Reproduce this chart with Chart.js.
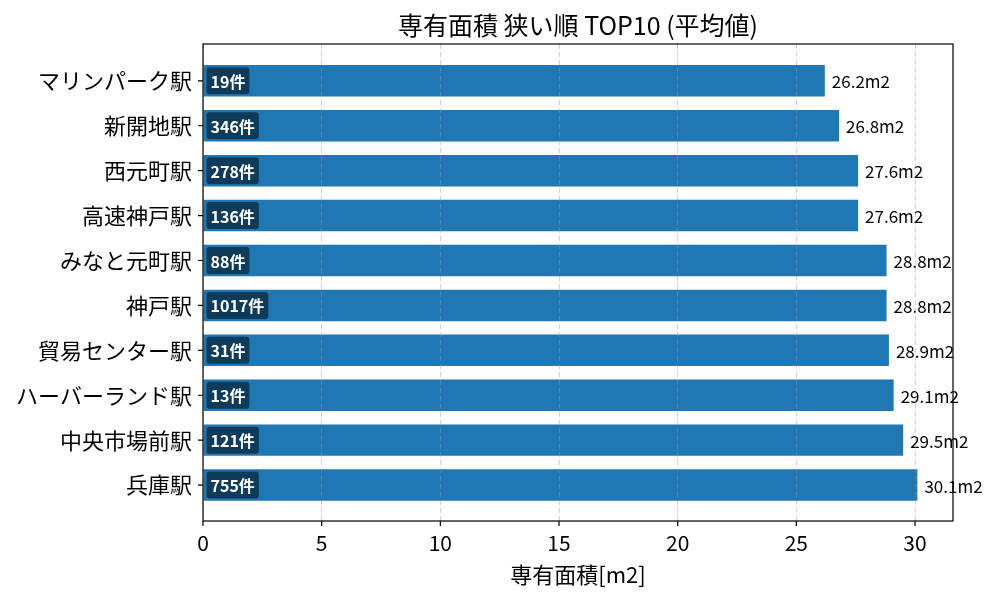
<!DOCTYPE html>
<html>
<head>
<meta charset="utf-8">
<script src="https://cdn.jsdelivr.net/npm/chart.js@4.4.0/dist/chart.umd.min.js"></script>
<style>
  html, body { margin: 0; padding: 0; background: #fff; }
  #wrap { width: 1000px; height: 600px; }
</style>
</head>
<body>
<div id="wrap"><canvas id="chart" width="1000" height="600"></canvas></div>
<script>
// stations sorted by average floor area (smallest first)
const stations = ['マリンパーク駅', '新開地駅', '西元町駅', '高速神戸駅', 'みなと元町駅',
  '神戸駅', '貿易センター駅', 'ハーバーランド駅', '中央市場前駅', '兵庫駅'];
const avgArea = [26.2, 26.8, 27.6, 27.6, 28.8, 28.8, 28.9, 29.1, 29.5, 30.1];
const counts = [19, 346, 278, 136, 88, 1017, 31, 13, 121, 755];
const xTicks = [0, 5, 10, 15, 20, 25, 30];

const FONT = '"Noto Sans CJK JP", "Noto Sans", sans-serif';

// title, frame, tick marks and bar labels
const decor = {
  id: 'decor',
  afterDatasetsDraw(chart) {
    const ctx = chart.ctx;
    const meta = chart.getDatasetMeta(0);
    ctx.save();
    meta.data.forEach((bar, i) => {
      // value label right of bar
      ctx.font = '17px ' + FONT;
      ctx.fillStyle = '#000';
      ctx.textAlign = 'left';
      ctx.textBaseline = 'middle';
      ctx.fillText(avgArea[i].toFixed(1) + 'm2', bar.x + 7, bar.y + 1);

      // count badge inside bar
      const txt = counts[i] + '件';
      ctx.font = 'bold 16px ' + FONT;
      const w = ctx.measureText(txt).width + 8;
      const h = 27;
      const bx = bar.base + 3;
      const by = bar.y - h / 2;
      ctx.fillStyle = 'rgba(0,0,0,0.5)';
      ctx.beginPath();
      ctx.roundRect(bx, by, w, h, 3);
      ctx.fill();
      ctx.fillStyle = '#fff';
      ctx.fillText(txt, bx + 4, bar.y + 1);
    });
    ctx.restore();
  },
  afterDraw(chart) {
    const ctx = chart.ctx;
    const area = chart.chartArea;
    const xs = chart.scales.x;
    const ys = chart.scales.y;
    ctx.save();
    ctx.strokeStyle = '#000';
    ctx.lineWidth = 1.2;
    ctx.strokeRect(area.left, area.top, area.right - area.left, area.bottom - area.top);
    ctx.beginPath();
    xTicks.forEach(v => {
      const px = xs.getPixelForValue(v);
      ctx.moveTo(px, area.bottom);
      ctx.lineTo(px, area.bottom + 5);
    });
    stations.forEach((s, i) => {
      const py = ys.getPixelForValue(i);
      ctx.moveTo(area.left, py);
      ctx.lineTo(area.left - 5, py);
    });
    ctx.stroke();

    ctx.font = '25px ' + FONT;
    ctx.fillStyle = '#000';
    ctx.textAlign = 'center';
    ctx.textBaseline = 'middle';
    ctx.fillText('専有面積 狭い順 TOP10 (平均値)', (area.left + area.right) / 2, 25);
    ctx.restore();
  }
};

const config = {
  type: 'bar',
  data: {
    datasets: [{
      data: avgArea.map((v, i) => ({ x: v, y: i })),
      backgroundColor: '#1f77b4',
      barPercentage: 1,
      categoryPercentage: 0.7
    }]
  },
  options: {
    indexAxis: 'y',
    responsive: false,
    animation: false,
    layout: { padding: { top: 44, right: 47, left: 0, bottom: 0 } },
    plugins: {
      legend: { display: false },
      title: { display: false },
      tooltip: { enabled: false }
    },
    scales: {
      x: {
        type: 'linear',
        min: 0,
        max: 31.6,
        afterBuildTicks: s => { s.ticks = xTicks.map(v => ({ value: v })); },
        afterFit: s => { s.height = 79; },
        grid: {
          z: 1,
          color: 'rgba(150,150,150,0.45)',
          drawTicks: false
        },
        border: { display: false, dash: [5, 3] },
        ticks: { color: '#000', font: { family: FONT, size: 21 }, padding: 9, maxRotation: 0 },
        title: {
          display: true,
          text: '専有面積[m2]',
          color: '#000',
          font: { family: FONT, size: 22 },
          padding: { top: 0, bottom: 12 }
        }
      },
      y: {
        type: 'linear',
        reverse: true,
        offset: false,
        min: -0.82,
        max: 9.8,
        afterBuildTicks: s => { s.ticks = stations.map((_, i) => ({ value: i })); },
        afterFit: s => { s.width = 203; },
        grid: { display: false, drawTicks: false, offset: false },
        border: { display: false },
        ticks: {
          color: '#000',
          font: { family: FONT, size: 22 },
          padding: 11,
          autoSkip: false,
          callback: v => stations[v]
        }
      }
    }
  },
  plugins: [decor]
};

new Chart(document.getElementById('chart').getContext('2d'), config);
</script>
</body>
</html>
